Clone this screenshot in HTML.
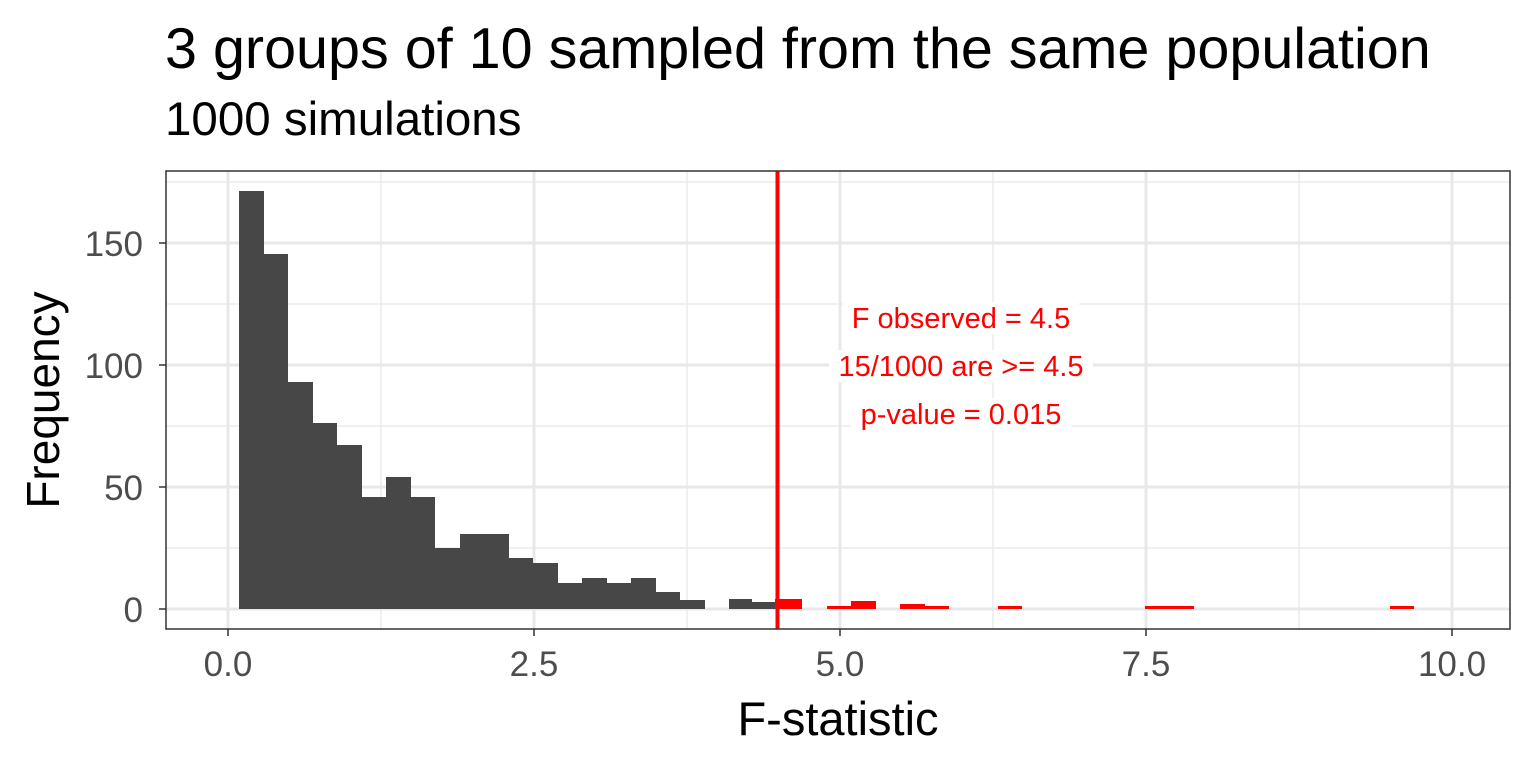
<!DOCTYPE html>
<html><head><style>body{margin:0;background:#fff}</style></head><body>
<svg width="1536" height="768" xmlns="http://www.w3.org/2000/svg" font-family="Liberation Sans, sans-serif">
<rect width="1536" height="768" fill="#fff"/>
<text x="165" y="68" font-size="57.5" fill="#000">3 groups of 10 sampled from the same population</text>
<text x="165" y="135" font-size="47.5" fill="#000">1000 simulations</text>
<g stroke="#ebebeb" stroke-width="1.5">
<line x1="166" x2="1510" y1="548" y2="548"/><line x1="166" x2="1510" y1="426" y2="426"/><line x1="166" x2="1510" y1="304" y2="304"/><line x1="166" x2="1510" y1="182" y2="182"/>
<line y1="171" y2="629" x1="381" x2="381"/><line y1="171" y2="629" x1="687" x2="687"/><line y1="171" y2="629" x1="993" x2="993"/><line y1="171" y2="629" x1="1299" x2="1299"/>
</g>
<g stroke="#e8e8e8" stroke-width="3">
<line x1="166" x2="1510" y1="609" y2="609"/><line x1="166" x2="1510" y1="487" y2="487"/><line x1="166" x2="1510" y1="365" y2="365"/><line x1="166" x2="1510" y1="243" y2="243"/>
<line y1="171" y2="629" x1="228" x2="228"/><line y1="171" y2="629" x1="534" x2="534"/><line y1="171" y2="629" x1="840" x2="840"/><line y1="171" y2="629" x1="1146" x2="1146"/><line y1="171" y2="629" x1="1452" x2="1452"/>
</g>
<g fill="#474747">
<rect x="239" y="191" width="25" height="418"/>
<rect x="264" y="254" width="24" height="355"/>
<rect x="288" y="382" width="25" height="227"/>
<rect x="313" y="423" width="24" height="186"/>
<rect x="337" y="445" width="25" height="164"/>
<rect x="362" y="497" width="24" height="112"/>
<rect x="386" y="477" width="25" height="132"/>
<rect x="411" y="497" width="24" height="112"/>
<rect x="435" y="548" width="25" height="61"/>
<rect x="460" y="534" width="24" height="75"/>
<rect x="484" y="534" width="25" height="75"/>
<rect x="509" y="558" width="24" height="51"/>
<rect x="533" y="563" width="25" height="46"/>
<rect x="558" y="583" width="24" height="26"/>
<rect x="582" y="578" width="25" height="31"/>
<rect x="607" y="583" width="24" height="26"/>
<rect x="631" y="578" width="25" height="31"/>
<rect x="656" y="592" width="24" height="17"/>
<rect x="680" y="600" width="25" height="9"/>
<rect x="729" y="599" width="23" height="10"/>
<rect x="752" y="602" width="23" height="7"/>
</g>
<g fill="#ff0000">
<rect x="775" y="599" width="27" height="10"/>
<rect x="827" y="606" width="24" height="3"/>
<rect x="851" y="601" width="25" height="8"/>
<rect x="900" y="604" width="25" height="5"/>
<rect x="925" y="606" width="24" height="3"/>
<rect x="998" y="606" width="24" height="3"/>
<rect x="1145" y="606" width="49" height="3"/>
<rect x="1390" y="606" width="24" height="3"/>
</g>
<line x1="777.5" x2="777.5" y1="171" y2="629" stroke="#ff0000" stroke-width="4"/>
<g font-size="29" fill="#ff0000" text-anchor="middle">
<rect x="843" y="302" width="236" height="32" fill="#fff"/>
<rect x="829" y="350" width="264" height="32" fill="#fff"/>
<rect x="851" y="398" width="220" height="32" fill="#fff"/>
<text x="961" y="328" font-size="29">F observed = 4.5</text>
<text x="961" y="376" font-size="29">15/1000 are &gt;= 4.5</text>
<text x="961" y="424" font-size="29">p-value = 0.015</text>
</g>
<rect x="166" y="171" width="1344" height="458" fill="none" stroke="#333" stroke-width="1.5"/>
<g stroke="#333" stroke-width="1.5">
<line x1="159" x2="166" y1="609" y2="609"/><line x1="159" x2="166" y1="487" y2="487"/><line x1="159" x2="166" y1="365" y2="365"/><line x1="159" x2="166" y1="243" y2="243"/>
<line y1="629" y2="636" x1="228" x2="228"/><line y1="629" y2="636" x1="534" x2="534"/><line y1="629" y2="636" x1="840" x2="840"/><line y1="629" y2="636" x1="1146" x2="1146"/><line y1="629" y2="636" x1="1452" x2="1452"/>
</g>
<g font-size="35" fill="#4d4d4d" text-anchor="end">
<text x="143" y="622">0</text><text x="143" y="500">50</text><text x="143" y="378">100</text><text x="143" y="256">150</text>
</g>
<g font-size="35" fill="#4d4d4d" text-anchor="middle">
<text x="228" y="676">0.0</text><text x="534" y="676">2.5</text><text x="840" y="676">5.0</text><text x="1146" y="676">7.5</text><text x="1452" y="676">10.0</text>
</g>
<text x="838" y="735" font-size="47" text-anchor="middle" fill="#000">F-statistic</text>
<text transform="translate(59,400) rotate(-90)" font-size="46" text-anchor="middle" fill="#000">Frequency</text>
</svg>
</body></html>
